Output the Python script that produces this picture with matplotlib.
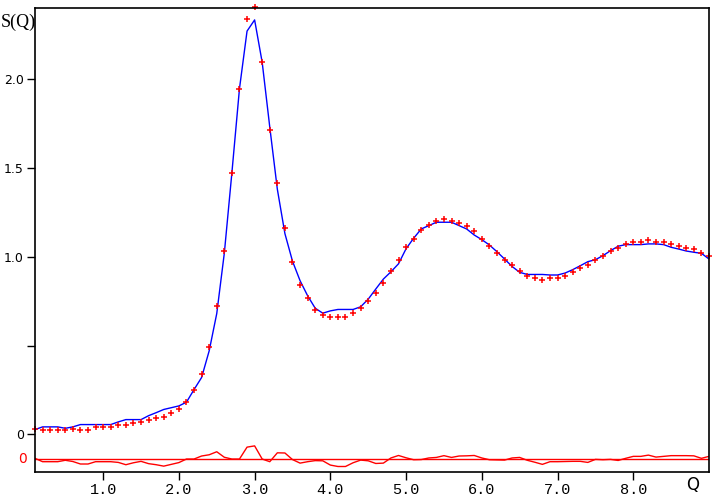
import matplotlib
matplotlib.use("Agg")
import matplotlib.pyplot as plt
import numpy as np

# measured structure factor (red crosses), Q = 0.1 ... 9.0
q = np.round(np.arange(1, 91) * 0.1, 1)
s_obs = [0.031, 0.027, 0.027, 0.027, 0.027, 0.028, 0.027, 0.027, 0.040, 0.040,
         0.040, 0.051, 0.051, 0.062, 0.070, 0.079, 0.090, 0.100, 0.120, 0.140,
         0.181, 0.252, 0.337, 0.494, 0.721, 1.030, 1.473, 1.946, 2.337, 2.407,
         2.094, 1.715, 1.415, 1.164, 0.972, 0.842, 0.765, 0.701, 0.672, 0.661,
         0.661, 0.661, 0.682, 0.712, 0.751, 0.793, 0.851, 0.921, 0.980, 1.052,
         1.100, 1.153, 1.181, 1.203, 1.213, 1.203, 1.192, 1.174, 1.142, 1.102,
         1.062, 1.023, 0.981, 0.951, 0.921, 0.893, 0.882, 0.870, 0.882, 0.882,
         0.894, 0.914, 0.936, 0.953, 0.981, 1.002, 1.032, 1.051, 1.072, 1.083,
         1.083, 1.094, 1.083, 1.083, 1.072, 1.062, 1.051, 1.043, 1.023, 1.002]

# fitted model (blue line)
s_fit = [0.027, 0.042, 0.042, 0.042, 0.034, 0.042, 0.055, 0.055, 0.055, 0.055,
         0.055, 0.070, 0.083, 0.083, 0.083, 0.105, 0.122, 0.140, 0.150, 0.160,
         0.181, 0.252, 0.320, 0.470, 0.680, 1.020, 1.473, 1.946, 2.270, 2.333,
         2.094, 1.730, 1.380, 1.130, 0.975, 0.865, 0.780, 0.710, 0.682, 0.695,
         0.703, 0.703, 0.703, 0.718, 0.761, 0.818, 0.874, 0.915, 0.960, 1.045,
         1.104, 1.156, 1.175, 1.194, 1.194, 1.194, 1.175, 1.156, 1.122, 1.096,
         1.066, 1.028, 0.987, 0.945, 0.912, 0.900, 0.900, 0.900, 0.897, 0.897,
         0.908, 0.927, 0.949, 0.972, 0.983, 1.006, 1.034, 1.059, 1.068, 1.068,
         1.068, 1.072, 1.072, 1.068, 1.053, 1.043, 1.032, 1.025, 1.019, 0.987]

diff_offset = -0.139
yticks = [0, 0.5, 1.0, 1.5, 2.0]
ytick_labels = ["0", "", "1.0", "1.5", "2.0"]
xticks = [1, 2, 3, 4, 5, 6, 7, 8]
xtick_labels = ["1.0", "2.0", "3.0", "4.0", "5.0", "6.0", "7.0", "8.0"]

fig = plt.figure(figsize=(7.17, 4.96), dpi=100)
ax = fig.add_axes([35 / 717, 1 - 472 / 496, 674 / 717, 464 / 496])

ax.plot(q, s_fit, color="#0000ff", lw=1.0)
ax.plot(q, s_obs, "+", color="#ff0000", ms=5, mew=1.1, clip_on=False)

# difference curve, shifted below zero
diff = np.array(s_obs) - np.array(s_fit)
ax.axhline(diff_offset, color="#ff0000", lw=1.0)
ax.plot(q, diff + diff_offset, color="#ff0000", lw=1.0)

ax.set_xlim(0.1, 9.0)
ax.set_ylim(-0.212, 2.40)

ax.set_xticks(xticks)
ax.set_xticklabels(xtick_labels, family="Liberation Mono", fontsize=11)
ax.set_yticks(yticks)
ax.set_yticklabels(ytick_labels, family="DejaVu Sans", fontsize=9)
ax.tick_params(direction="out", length=6, width=1, colors="black", pad=2)
for sp in ax.spines.values():
    sp.set_linewidth(1.2)

ax.text(-0.012, diff_offset, "0", color="#ff0000", transform=ax.get_yaxis_transform(),
        ha="right", va="center", fontsize=10, family="DejaVu Sans")

fig.text(1 / 717, 1 - 22 / 496, "S(Q)", ha="left", va="center",
         family="Liberation Serif", fontsize=13)
fig.text(693 / 717, 1 - 485 / 496, "Q", ha="center", va="center",
         family="DejaVu Sans", fontsize=12)

fig.savefig("out.png", dpi=100)
